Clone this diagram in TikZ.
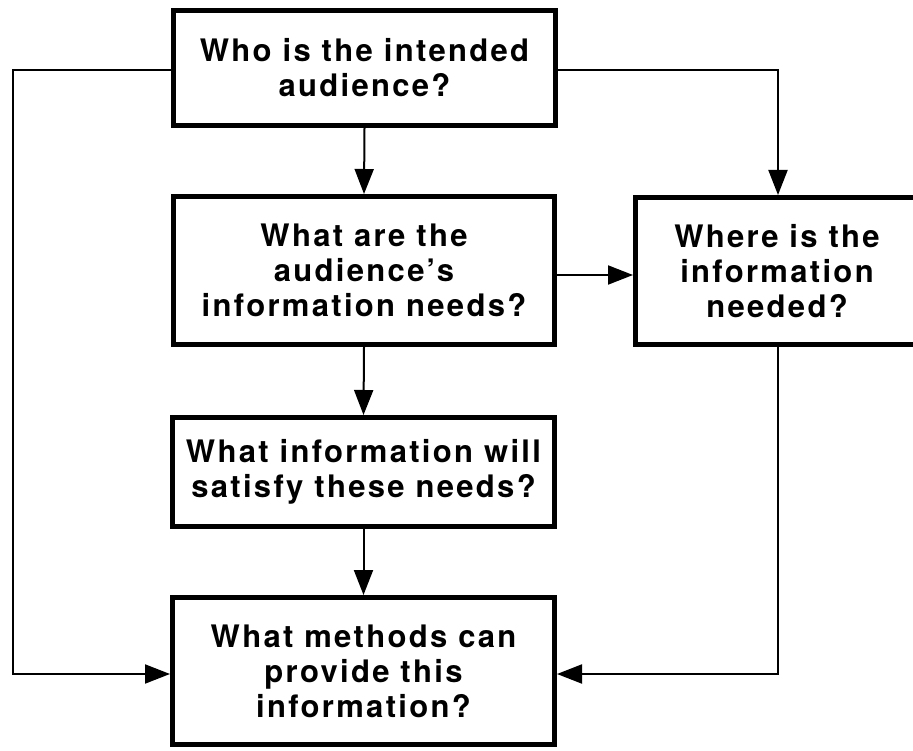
\documentclass[tikz,border=0pt]{standalone}
\usepackage{fontspec}
\setmainfont{TeX Gyre Heros}[LetterSpace=7.5]
\usetikzlibrary{arrows.meta}
\tikzset{
  qbox/.style={draw, line width=5pt, rectangle, align=center, inner sep=0pt,
    font=\bfseries\fontsize{31}{35}\selectfont},
  conn/.style={line width=2pt, -{Triangle[length=25pt,width=19pt]}}
}
\begin{document}
\begin{tikzpicture}[x=1pt,y=-1pt]
\path[use as bounding box] (0,0) rectangle (913,751);
\clip (0,0) rectangle (913,751);
\node[qbox, minimum width=382pt, minimum height=115pt] (b1) at (364.5,68) {Who is the intended\\audience?};
\node[qbox, minimum width=381pt, minimum height=148pt] (b2) at (364,270.5) {What are the\\audience’s\\information needs?};
\node[qbox, minimum width=283pt, minimum height=147pt] (b3) at (777,271) {Where is the\\information\\needed?};
\node[qbox, minimum width=382pt, minimum height=109pt] (b4) at (363.5,472) {What information will\\satisfy these needs?};
\node[qbox, minimum width=382pt, minimum height=147pt] (b5) at (363.5,671) {What methods can\\provide this\\information?};
\coordinate (lt) at (13,70);
\coordinate (lb) at (13,674);
\coordinate (rt) at (778,70);
\coordinate (rb) at (778,674);
\draw[conn] (b1.west |- lt) -- (lt) -- (lb) -- (b5.west |- lb);
\draw[conn] (b1.east |- rt) -- (rt) -- (b3.north -| rt);
\draw[conn] (b1.south) -- (b2.north);
\draw[conn] (b2.east |- 0,275) -- (b3.west |- 0,275);
\draw[conn] (b2.south) -- (b4.north);
\draw[conn] (b4.south) -- (b5.north);
\draw[conn] (b3.south -| rb) -- (rb) -- (b5.east |- rb);
\end{tikzpicture}
\end{document}
